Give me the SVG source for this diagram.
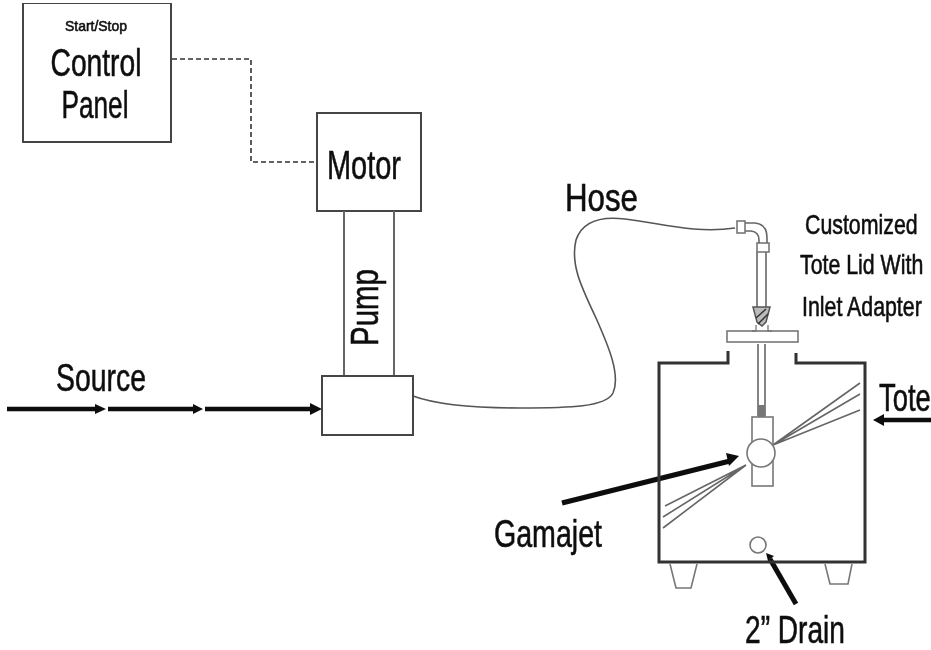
<svg xmlns="http://www.w3.org/2000/svg" width="931" height="650" viewBox="0 0 931 650">
<defs><filter id="soft" x="0" y="0" width="100%" height="100%"><feGaussianBlur stdDeviation="0.55"/></filter></defs>
<style>
text{font-family:"Liberation Sans",Arial,sans-serif;fill:#111;stroke:#111;stroke-width:.6}
.b{fill:#fff;stroke:#444;stroke-width:2}
.t{fill:#fff;stroke:#777;stroke-width:1.6}
.thin{fill:none;stroke:#666;stroke-width:1.6}
.h{fill:none;stroke:#333;stroke-width:3}
.a{stroke:#111;stroke-width:4.5;fill:none}
.p{fill:#111}
</style>
<rect width="931" height="650" fill="#fff"/>
<g filter="url(#soft)">
<g id="connectors">
<path d="M172 59H251V162H317" fill="none" stroke="#333" stroke-width="1.6" stroke-dasharray="5 3"/>
<path d="M413 396C432 403 470 408 520 408C570 408 606 407 613 393C621 375 608 345 596 318C582 288 570 265 576 240C582 222 600 216 625 219C660 223 695 234 735 228" fill="none" stroke="#555" stroke-width="1.6"/>
<g id="source-arrow">
<path class="a" d="M7 409H98M108 409H195M205 409H312"/>
<path class="p" d="M95 404L106 409L95 414ZM193 404L203 409L193 414ZM310 403L322 409L310 415Z"/>
</g>
<path class="a" d="M931 420H882"/><path class="p" d="M884 414L873 420L884 426Z"/>
<path d="M562 503L730 461" stroke="#111" stroke-width="5" fill="none"/><path class="p" d="M726 453L739 456L729 466Z"/>
<path d="M796 604L770 559" stroke="#111" stroke-width="5" fill="none"/><path class="p" d="M766 553L774 556L768 561Z"/>
</g>
<g id="control-panel"><rect class="b" x="23" y="3" width="148" height="139"/>
<text x="96" y="31" font-size="15" text-anchor="middle" textLength="62" lengthAdjust="spacingAndGlyphs">Start/Stop</text>
<text x="96" y="76" font-size="39" text-anchor="middle" textLength="91" lengthAdjust="spacingAndGlyphs">Control</text>
<text x="95" y="118" font-size="39" text-anchor="middle" textLength="67" lengthAdjust="spacingAndGlyphs">Panel</text></g>
<g id="motor"><rect class="b" x="317" y="113" width="104" height="98"/>
<text x="364" y="179" font-size="40" text-anchor="middle" textLength="74" lengthAdjust="spacingAndGlyphs">Motor</text></g>
<g id="pump"><path class="thin" d="M344 211V376M394 211V376" style="stroke-width:2"/>
<text transform="translate(378 346) rotate(-90)" font-size="38" textLength="77" lengthAdjust="spacingAndGlyphs">Pump</text></g>
<g id="pump-base"><rect class="b" x="322" y="376" width="91" height="59"/></g>
<g id="tote">
<path class="h" d="M728 351V363H659V562H865V363H796V353"/>
<path class="t" d="M670 564L676 588H691L697 564M825 564L830 584H848L852 564"/>
<path class="thin" d="M860 383L773 445L860 394M773 445L860 410"/>
<path class="thin" d="M746 465L665 506M746 465L663 517M746 465L663 528"/>
<circle class="t" cx="758" cy="545" r="8"/>
</g>
<g id="lid">
<path class="thin" d="M758 344V416M765 344V416"/>
<path d="M758 405H765V417H758Z" fill="#777"/>
<rect class="t" x="727" y="331" width="71" height="11"/>
<path class="thin" d="M757 252V307M766 252V307"/>
<path d="M753 307L770 307L766 322L762 326L757 322Z" fill="#bbb" stroke="#555" stroke-width="1.5"/>
<path d="M756 318L766 309M758 324L768 314" stroke="#333" stroke-width="1.5"/>
<path d="M756 325V331H752M768 325V331H772" fill="none" stroke="#777" stroke-width="1.3"/>
<rect class="t" x="757" y="243" width="12" height="9"/>
<path class="thin" d="M745 223H755Q767 224 767 238V243M745 231H751Q759 232 759 240V243"/>
<rect class="t" x="737" y="221" width="8" height="12"/>
</g>
<g id="gamajet">
<rect class="t" x="752" y="417" width="21" height="69"/>
<circle class="t" cx="761" cy="453" r="14"/>
</g>
<g id="labels">
<text x="565" y="211" font-size="39" textLength="73" lengthAdjust="spacingAndGlyphs">Hose</text>
<text x="56" y="391" font-size="38" textLength="90" lengthAdjust="spacingAndGlyphs">Source</text>
<text x="494" y="547" font-size="38" textLength="108" lengthAdjust="spacingAndGlyphs">Gamajet</text>
<text x="745" y="643" font-size="39" textLength="100" lengthAdjust="spacingAndGlyphs">2” Drain</text>
<text transform="translate(879 411) scale(.72 1)" font-size="38">Tote</text>
<text transform="translate(805 234) scale(.79 1)" font-size="27">Customized</text>
<text transform="translate(800 274) scale(.79 1)" font-size="27">Tote Lid With</text>
<text transform="translate(802 316) scale(.79 1)" font-size="27">Inlet Adapter</text>
</g>
</g>
</svg>
